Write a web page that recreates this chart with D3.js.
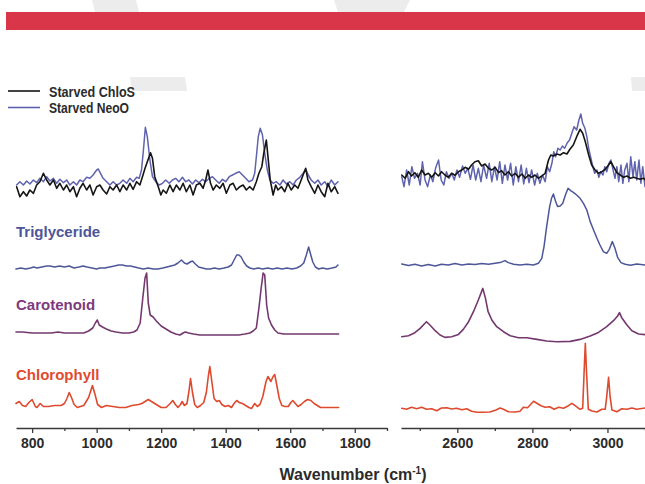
<!DOCTYPE html>
<html>
<head>
<meta charset="utf-8">
<script src="https://cdn.jsdelivr.net/npm/d3@7"></script>
<style>
  html, body { margin: 0; padding: 0; background: #fff; }
  svg { display: block; }
  text { font-family: "Liberation Sans", Arial, sans-serif; font-weight: bold; }
</style>
</head>
<body>
<svg id="chart" width="645" height="484"></svg>
<script>
// Raman spectra: fingerprint region (750-1900 cm-1) and C-H stretch region (2450-3100 cm-1).
// Each series is [wavenumber, relative intensity above its own baseline].

const leftMajorTicks = [800, 1000, 1200, 1400, 1600, 1800];
const leftMinorTicks = [900, 1100, 1300, 1500, 1700, 1900];
const rightMajorTicks = [2600, 2800, 3000];
const rightMinorTicks = [2500, 2700, 2900, 3100];

const legendLabels = ["Starved ChloS", "Starved NeoO"];
const componentLabels = ["Triglyceride", "Carotenoid", "Chlorophyll"];
const axisTitle = "Wavenumber (cm";

// vertical stacking offsets of each trace (same intensity units as the values)
const leftOffsets = { starved: 243, triglyceride: 160, carotenoid: 95, chlorophyll: 21.5 };
const rightOffsets = { starved: 253, triglyceride: 163.7, carotenoid: 91.3, chlorophyll: 19 };

// ---- fingerprint region ----
const chloSLow = [[752,-1.7],[762,-11.7],[773,-6.7],[783,-11],[793,-5],[804,-8.3],[814,0],[824,3.3],[835,11.7],[845,5],[855,0],[866,5],[876,-3.3],[886,1.7],[897,-5],[907,0],[917,-6.7],[928,-1.7],[938,-11.7],[948,-3.3],[958,1.7],[969,-5],[979,0],[989,-10],[1000,-1.7],[1010,0],[1020,-5],[1031,-9],[1041,-1.7],[1051,-5],[1062,0],[1072,-6.7],[1082,0],[1093,-5],[1103,1.7],[1113,-4.3],[1124,3.3],[1134,0],[1142,8.3],[1150,16.7],[1159,25],[1167,32.3],[1173,26.7],[1180,8.3],[1191,-1.7],[1199,-10],[1206,-5],[1216,-8.3],[1227,0],[1237,-6.7],[1247,0],[1258,-5],[1268,1.7],[1278,-6.7],[1289,0],[1299,-10],[1309,0],[1320,1.7],[1330,-3.3],[1338,5],[1345,15],[1353,1.7],[1361,-5],[1371,0],[1382,-3.3],[1392,1.7],[1402,-8.3],[1413,0],[1423,1.7],[1433,-5],[1444,-1.7],[1454,0],[1464,-5],[1474,-1.7],[1485,-5],[1495,3.3],[1503,11.7],[1512,18.3],[1518,31.7],[1526,45],[1531,28.3],[1538,5],[1547,-10],[1555,0],[1562,-5],[1573,-1.7],[1583,-6.7],[1593,1.7],[1603,-5],[1614,0],[1624,-3.3],[1634,5],[1642,11.7],[1648,16.7],[1655,5],[1665,-1.7],[1676,-8.3],[1686,0],[1696,-6.7],[1707,-11.7],[1717,1.7],[1727,-6.7],[1738,-1.7],[1748,-8.3]];

const neoOLow = [[752,0],[762,3.3],[773,0],[783,4],[793,1],[804,5],[814,2.3],[824,6.7],[835,3.3],[845,8.3],[855,4],[866,6.7],[876,1.7],[886,5.7],[897,2.3],[907,5],[917,0],[928,3.3],[938,0],[948,5],[958,3.3],[969,7.7],[979,6.7],[989,10],[1000,15],[1005,16],[1012,11.7],[1020,6.7],[1031,3.3],[1041,0],[1051,3.3],[1062,0],[1072,1.7],[1082,5],[1093,1.7],[1103,6.7],[1113,3.3],[1124,7.7],[1132,6.7],[1139,15],[1145,35],[1151,57.7],[1157,48.3],[1165,25],[1173,8.3],[1183,3.3],[1194,0],[1204,1.7],[1214,5],[1225,1.7],[1235,5],[1245,6.7],[1255,3.3],[1266,7.7],[1276,3.3],[1286,5],[1297,1],[1307,5],[1317,2.3],[1328,5.7],[1338,3.3],[1349,6.7],[1359,8.3],[1369,5],[1380,1.7],[1390,5.7],[1400,3.3],[1411,8.3],[1421,10],[1431,11.7],[1442,13.3],[1452,10],[1462,6.7],[1472,3.3],[1483,5],[1490,11.7],[1495,28.3],[1501,48.3],[1507,56.7],[1514,50],[1521,31.7],[1529,15],[1537,5],[1547,1.7],[1557,3.3],[1568,0],[1578,5],[1588,1],[1599,3.3],[1609,0],[1619,5],[1630,7.7],[1640,11.7],[1648,15.7],[1656,10],[1665,5],[1676,1.7],[1686,5],[1696,0],[1707,3.3],[1717,-1.7],[1727,5],[1738,0],[1748,3.3]];

const triglycerideLow = [[750,-1],[765,0],[780,-1],[795,0],[805,1],[815,0],[830,1],[845,2],[855,2],[870,1],[885,2],[900,1],[915,2],[930,0],[945,1],[958,2],[970,1],[985,0],[1000,-1],[1010,0],[1025,0],[1040,1],[1055,2],[1068,3],[1080,3],[1092,2],[1105,2],[1118,1],[1130,0],[1145,-1],[1160,0],[1175,-1],[1190,-1],[1205,0],[1218,1],[1230,2],[1242,3],[1252,5],[1263,8],[1272,5],[1280,4],[1290,6],[1297,7],[1306,4],[1316,1],[1328,0],[1340,-1],[1352,-1],[1365,0],[1380,-1],[1395,0],[1408,1],[1418,3],[1426,8],[1434,13],[1441,13],[1448,11],[1456,6],[1465,2],[1475,0],[1487,-1],[1500,0],[1515,-1],[1530,0],[1545,-1],[1560,0],[1575,-1],[1590,0],[1605,-1],[1620,0],[1632,2],[1642,5],[1650,13],[1657,21],[1663,14],[1670,6],[1678,1],[1688,-1],[1700,0],[1715,-1],[1730,0],[1742,1],[1748,3]];

const carotenoidLow = [[750,1],[770,1],[800,0],[830,0],[860,0],[880,1],[900,0],[930,0],[960,0],[975,2],[988,5],[996,10],[1002,13],[1008,8],[1018,6],[1030,4],[1045,2],[1060,1],[1080,0],[1100,0],[1115,1],[1125,3],[1135,10],[1143,35],[1150,55],[1155,60],[1160,30],[1166,18],[1175,16],[1185,12],[1200,7],[1215,4],[1230,1],[1245,-1],[1258,-2],[1268,0],[1275,1],[1285,0],[1300,-1],[1320,-2],[1350,-2],[1380,-2],[1410,-2],[1440,-2],[1460,-1],[1475,0],[1485,2],[1495,5],[1503,25],[1510,45],[1516,60],[1521,58],[1527,28],[1533,15],[1542,8],[1552,3],[1562,0],[1580,-1],[1620,-1],[1660,-1],[1700,-1],[1750,-1]];

const chlorophyllLow = [[750,3],[760,5],[770,1],[780,0],[790,4],[800,7],[810,0],[815,-1],[825,3],[835,0],[850,0],[870,1],[890,1],[900,3],[908,8],[915,14],[922,9],[930,2],[940,-1],[960,1],[975,9],[987,21],[995,12],[1003,2],[1015,-1],[1030,1],[1050,0],[1070,-1],[1090,-1],[1110,1],[1130,2],[1140,3],[1150,5],[1160,7],[1170,5],[1180,3],[1190,1],[1200,-1],[1215,-1],[1228,3],[1236,6],[1244,2],[1252,-1],[1260,2],[1265,5],[1272,1],[1280,3],[1286,15],[1291,28],[1297,14],[1304,2],[1312,-1],[1322,1],[1332,4],[1340,14],[1346,30],[1351,40],[1357,25],[1364,8],[1372,5],[1380,6],[1388,2],[1398,0],[1408,1],[1418,-1],[1426,3],[1434,6],[1442,4],[1452,3],[1462,1],[1472,-1],[1480,-2],[1490,3],[1498,0],[1506,2],[1515,10],[1525,25],[1531,30],[1540,25],[1547,30],[1552,32],[1558,22],[1566,8],[1574,1],[1584,0],[1594,0],[1602,4],[1608,6],[1616,3],[1624,0],[1634,2],[1644,5],[1654,7],[1664,6],[1674,3],[1684,1],[1694,-1],[1710,-1],[1730,-1],[1750,-1]];

// ---- C-H stretch region ----
const chloSHigh = [[2452,0],[2461,-3.3],[2470,3.3],[2478,-1],[2487,2.3],[2496,-2.3],[2505,5],[2514,0],[2523,1.7],[2532,-2.3],[2541,2.3],[2550,-1],[2558,3.3],[2567,0],[2576,-2.3],[2585,1.7],[2594,-0.3],[2603,3.3],[2612,5],[2621,7.7],[2630,5.7],[2638,10],[2647,13.3],[2656,14.3],[2665,9],[2674,11],[2683,6.7],[2692,5],[2701,7.7],[2710,2.3],[2718,4.3],[2727,0],[2736,3.3],[2745,-1],[2754,1.7],[2763,-2.3],[2772,1],[2781,-3.3],[2790,0],[2798,-2.3],[2807,0],[2816,-3.3],[2825,-1],[2834,1.7],[2843,15],[2849,20],[2856,19],[2865,21],[2874,20],[2883,22.3],[2892,21],[2900,25.7],[2909,30],[2918,38.3],[2927,45.7],[2934,41.7],[2941,33.3],[2950,20],[2958,10],[2967,5],[2976,1.7],[2985,3.3],[2994,5.7],[3003,10],[3009,13.3],[3016,8.3],[3025,2.3],[3034,0],[3043,-2.3],[3052,-1],[3061,-3.3],[3070,-2.3],[3078,-3.3],[3087,-4.3],[3096,-3.3],[3101,-5]];

const neoOHigh = [[2452,-1.7],[2458,-11.7],[2465,5],[2472,-10],[2479,8.3],[2486,-3.3],[2494,1.7],[2501,-10],[2507,13.3],[2514,-5],[2521,-11.7],[2528,0],[2535,-6.7],[2542,6.7],[2550,15],[2557,-5],[2564,-10],[2571,3.3],[2578,-3.3],[2585,1.7],[2592,-5],[2599,5],[2606,-2.3],[2614,9],[2621,1.7],[2628,6.7],[2635,-4.3],[2642,10],[2649,-5],[2656,6.7],[2663,-6.7],[2670,10],[2678,-3.3],[2685,11.7],[2692,-6.7],[2699,8.3],[2706,-5],[2713,13.3],[2720,-8.3],[2727,10],[2734,-5],[2742,11.7],[2749,-10],[2756,8.3],[2763,-6.7],[2770,10],[2777,-9],[2784,6.7],[2791,-7.7],[2798,5],[2806,-10],[2813,1.7],[2820,-8.3],[2827,0],[2834,-6.7],[2840,8.3],[2846,3.3],[2852,11.7],[2857,23.3],[2862,18.3],[2868,26.7],[2874,25],[2880,29],[2886,26.7],[2893,32.3],[2899,35],[2905,41.7],[2911,48.3],[2918,45],[2924,55],[2929,61],[2934,51.7],[2940,46.7],[2945,38.3],[2950,26.7],[2956,16.7],[2961,8.3],[2966,1.7],[2972,5],[2977,-2.3],[2982,3.3],[2988,0],[2993,8.3],[2998,3.3],[3004,11.7],[3009,15],[3014,6.7],[3020,-3.3],[3025,8.3],[3030,-6.7],[3036,10],[3041,-8.3],[3046,5],[3052,11.7],[3057,-6.7],[3062,18.3],[3068,-1.7],[3073,13.3],[3078,-5],[3084,15],[3089,-8.3],[3094,8.3],[3100,-11.7]];

const triglycerideHigh = [[2452,0.3],[2470,-1.3],[2487,0],[2505,-1.7],[2523,-0.3],[2541,-1.7],[2558,0],[2576,-0.7],[2594,0.7],[2612,-0.7],[2630,0.3],[2647,-0.3],[2665,0.7],[2683,0],[2701,1],[2714,1.7],[2727,3.7],[2736,1.7],[2750,0],[2767,-0.7],[2785,0],[2803,-0.7],[2816,1],[2825,6],[2831,17.7],[2838,37.7],[2846,57.7],[2851,66],[2856,70.3],[2862,62.7],[2867,57.7],[2874,58.3],[2881,61],[2888,69.3],[2895,76],[2902,73.7],[2910,71.7],[2918,69.3],[2927,66],[2936,61],[2945,54.3],[2954,42.7],[2963,34.3],[2972,26],[2980,19.3],[2989,12.7],[2998,11],[3005,15],[3013,22.7],[3020,16],[3027,7],[3036,1.7],[3047,0],[3061,-1],[3078,0.3],[3101,-0.7]];

const carotenoidHigh = [[2452,0],[2470,1],[2487,4],[2501,8.3],[2512,12.7],[2518,15],[2527,11.7],[2541,6],[2554,1.7],[2567,-0.7],[2585,0],[2603,2.3],[2616,7.3],[2630,15],[2643,25],[2656,36.7],[2668,48.3],[2675,38.3],[2682,25],[2692,16.7],[2705,10],[2723,5],[2741,1],[2763,-1],[2785,-1],[2812,-2.7],[2838,-4.3],[2865,-5],[2901,-4.7],[2927,-2.7],[2954,0.7],[2976,4.3],[2998,10],[3016,16],[3027,20.7],[3032,24],[3038,19],[3052,11.7],[3065,6],[3083,2.7],[3101,2]];

const chlorophyllHigh = [[2452,0.7],[2465,-0.3],[2478,1.7],[2492,0.3],[2505,1.7],[2518,-0.3],[2532,0.3],[2545,-1.7],[2558,1],[2572,1.3],[2585,0],[2598,0.7],[2612,-0.7],[2625,0.3],[2638,-2.3],[2652,-3.3],[2670,-3.3],[2687,-3],[2703,-1],[2714,1],[2723,-0.3],[2736,-2.7],[2754,-3],[2767,-2.3],[2776,1.7],[2787,1.3],[2794,4],[2803,7.7],[2812,5.7],[2823,3.3],[2834,1.7],[2846,2.3],[2858,-0.3],[2870,1.7],[2883,0.7],[2896,3.3],[2905,5.7],[2914,3.3],[2927,-0.3],[2934,0.7],[2938,39],[2941,65.7],[2944,39],[2949,-0.3],[2959,-2],[2972,-3],[2985,-0.3],[2994,-0.3],[2998,12.3],[3003,31.7],[3007,12.3],[3012,-1],[3025,-2.7],[3038,0.3],[3052,-0.3],[3065,1],[3078,-0.3],[3101,1]];

// ---- colours ----
const colors = {
  chloS: "#151515",
  neoO: "#5f63ad",
  triglyceride: "#4d5699",
  carotenoid: "#74386f",
  chlorophyll: "#de4a2e",
  banner: "#d9364a",
  axis: "#3a3a3a",
  text: "#2b2b2b",
  watermark: "#ececec"
};

const svg = d3.select("#chart");

// faint background mark, showing above the banner and just above the figure
const watermark = [
  [[92, 0], [136, 0], [139, 12], [95, 12]],
  [[334, 0], [410, 0], [404, 12], [338, 12]],
  [[130, 77], [185, 77], [187, 91], [132, 91]],
  [[631, 77], [645, 77], [645, 91], [632, 91]]
];
svg.append("g").selectAll("path").data(watermark).join("path")
  .attr("d", d => d3.line()(d) + "Z")
  .attr("fill", colors.watermark);

// header banner
svg.append("rect")
  .attr("x", 6).attr("y", 12).attr("width", 645 - 6).attr("height", 18)
  .attr("fill", colors.banner);

// scales
const y = d3.scaleLinear().domain([0, 340]).range([428, 88]);
const xLeft = d3.scaleLinear().domain([750, 1900]).range([16, 387]);
const xRight = d3.scaleLinear().domain([2450, 3100]).range([401, 645]);

function drawTrace(data, x, offset, color, width) {
  const line = d3.line()
    .x(d => x(d[0]))
    .y(d => y(d[1] + offset));
  svg.append("path")
    .datum(data)
    .attr("d", line)
    .attr("fill", "none")
    .attr("stroke", color)
    .attr("stroke-width", width)
    .attr("stroke-linejoin", "round")
    .attr("stroke-linecap", "round");
}

// fingerprint region traces
drawTrace(neoOLow, xLeft, leftOffsets.starved, colors.neoO, 1.5);
drawTrace(chloSLow, xLeft, leftOffsets.starved, colors.chloS, 1.6);
drawTrace(triglycerideLow, xLeft, leftOffsets.triglyceride, colors.triglyceride, 1.5);
drawTrace(carotenoidLow, xLeft, leftOffsets.carotenoid, colors.carotenoid, 1.6);
drawTrace(chlorophyllLow, xLeft, leftOffsets.chlorophyll, colors.chlorophyll, 1.6);

// C-H stretch traces
drawTrace(neoOHigh, xRight, rightOffsets.starved, colors.neoO, 1.5);
drawTrace(chloSHigh, xRight, rightOffsets.starved, colors.chloS, 1.6);
drawTrace(triglycerideHigh, xRight, rightOffsets.triglyceride, colors.triglyceride, 1.5);
drawTrace(carotenoidHigh, xRight, rightOffsets.carotenoid, colors.carotenoid, 1.6);
drawTrace(chlorophyllHigh, xRight, rightOffsets.chlorophyll, colors.chlorophyll, 1.6);

// axes
function drawAxis(x, major, minor) {
  const g = svg.append("g").attr("transform", `translate(0,${y(0)})`);
  g.call(d3.axisBottom(x).tickValues(major).tickSize(5).tickSizeOuter(0).tickPadding(5).tickFormat(d3.format("d")));
  g.select(".domain").attr("stroke", colors.axis).attr("stroke-width", 1.5);
  g.selectAll(".tick line").attr("stroke", colors.axis).attr("stroke-width", 1.3);
  g.selectAll(".tick text")
    .attr("fill", colors.text)
    .style("font-family", '"Liberation Sans", Arial, sans-serif')
    .style("font-weight", "bold")
    .style("font-size", "14px");
  const m = svg.append("g").attr("transform", `translate(0,${y(0)})`);
  m.call(d3.axisBottom(x).tickValues(minor).tickSize(3).tickFormat(""));
  m.select(".domain").remove();
  m.selectAll(".tick line").attr("stroke", colors.axis).attr("stroke-width", 1.3);
}
drawAxis(xLeft, leftMajorTicks, leftMinorTicks);
drawAxis(xRight, rightMajorTicks, rightMinorTicks);

// axis title with superscript
const title = svg.append("text")
  .attr("x", 353).attr("y", 480)
  .attr("text-anchor", "middle")
  .attr("fill", colors.text)
  .style("font-size", "16px");
title.append("tspan").text(axisTitle);
title.append("tspan").attr("dy", -6).style("font-size", "10px").text("-1");
title.append("tspan").attr("dy", 6).text(")");

// legend
const legendColors = [colors.chloS, colors.neoO];
legendLabels.forEach((label, i) => {
  const ly = 91 + i * 16.5;
  svg.append("line")
    .attr("x1", 8).attr("x2", 40).attr("y1", ly).attr("y2", ly)
    .attr("stroke", legendColors[i]).attr("stroke-width", 1.6);
  svg.append("text")
    .attr("x", 49).attr("y", ly + 5.5)
    .attr("fill", colors.text)
    .style("font-size", "14px")
    .attr("textLength", i === 0 ? 86 : 80)
    .attr("lengthAdjust", "spacingAndGlyphs")
    .text(label);
});

// component labels
const componentColors = [colors.triglyceride, "#7d3a7d", "#e04a30"];
const componentBaselines = [237, 309.5, 380];
componentLabels.forEach((label, i) => {
  svg.append("text")
    .attr("x", 16).attr("y", componentBaselines[i])
    .attr("fill", componentColors[i])
    .style("font-size", "15px")
    .text(label);
});
</script>
</body>
</html>
